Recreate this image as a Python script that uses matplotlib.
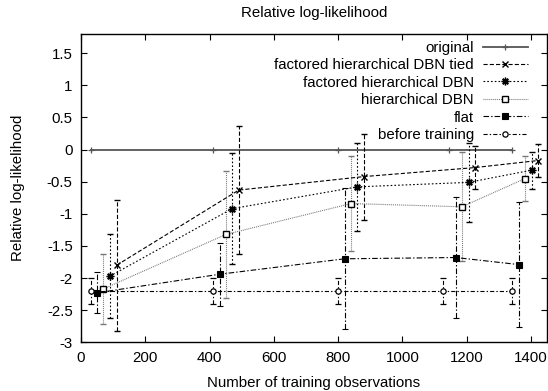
import matplotlib
matplotlib.use("Agg")
import matplotlib.pyplot as plt

plt.rcParams['font.family'] = ['Liberation Sans', 'DejaVu Sans']
plt.rcParams['lines.scale_dashes'] = False

# ---- data ----
orig_x = [30, 410, 800, 1145, 1340]
orig_y = [0, 0, 0, 0, 0]

tied_x = [111, 491, 880, 1225, 1422]
tied_y = [-1.80, -0.63, -0.42, -0.28, -0.17]
tied_e = [1.02, 1.00, 0.67, 0.34, 0.26]

fact_x = [90, 470, 860, 1206, 1402]
fact_y = [-1.97, -0.92, -0.58, -0.51, -0.32]
fact_e = [0.65, 0.86, 0.69, 0.61, 0.29]

hier_x = [69, 451, 840, 1185, 1382]
hier_y = [-2.17, -1.32, -0.84, -0.89, -0.45]
hier_e = [0.55, 0.99, 0.74, 0.85, 0.35]

flat_x = [49, 432, 820, 1166, 1362]
flat_y = [-2.23, -1.94, -1.70, -1.68, -1.79]
flat_e = [0.32, 0.49, 1.10, 0.94, 0.97]

bef_x = [30, 410, 800, 1125, 1340]
bef_y = [-2.20, -2.20, -2.20, -2.20, -2.20]
bef_e = [0.20, 0.20, 0.20, 0.20, 0.20]

labels = ["original", "factored hierarchical DBN tied", "factored hierarchical DBN",
          "hierarchical DBN", "flat", "before training"]
x_ticks = [0, 200, 400, 600, 800, 1000, 1200, 1400]
y_ticks = [-3, -2.5, -2, -1.5, -1, -0.5, 0, 0.5, 1, 1.5]

fig = plt.figure(figsize=(5.48, 3.91), dpi=100)
ax = fig.add_axes([81/548, 1-342.3/391, 466/548, 308.3/391])

fs = 10.8

handles = []
h, = ax.plot(orig_x, orig_y, color='#555555', lw=1.3, marker='+', ms=5, mew=0.9,
             label=labels[0])
handles.append(h)

def eb(x, y, e, dash, color, marker, mfc, ms, mew, label):
    cont = ax.errorbar(x, y, yerr=e, color=color, lw=0.8, marker=marker, ms=ms,
                       mfc=mfc, mec='black', mew=mew, capsize=2, capthick=0.8,
                       elinewidth=0.8, label=label)
    cont[0].set_dashes(dash)
    for c in cont[2]:
        c.set_linestyle((0, dash))
    handles.append(cont[0])
    return cont

eb(tied_x, tied_y, tied_e, (3, 1.5), 'black', 'x', 'none', 4, 1.0, labels[1])
eb(fact_x, fact_y, fact_e, (1.2, 1.5), 'black', (8, 2, 0), 'black', 5.5, 1.0, labels[2])
eb(hier_x, hier_y, hier_e, (0.7, 0.7), '#777777', 's', 'white', 4.2, 1.0, labels[3])
eb(flat_x, flat_y, flat_e, (4, 1.5, 1, 1.5), 'black', 's', 'black', 4.5, 0.8, labels[4])
eb(bef_x, bef_y, bef_e, (3, 1.5, 1, 1.5), 'black', 'o', 'white', 3.8, 0.9, labels[5])

ax.set_xlim(0, 1450)
ax.set_ylim(-3, 1.8)
ax.set_xticks(x_ticks)
ax.set_xticklabels([str(v) for v in x_ticks])
ax.set_yticks(y_ticks)
ax.set_yticklabels(['%g' % v for v in y_ticks])
ax.tick_params(direction='in', top=True, right=True, length=4, width=0.8,
               labelsize=fs, colors='black', pad=6)
for s in ax.spines.values():
    s.set_linewidth(1.0)

ax.set_title("Relative log-likelihood", fontsize=fs, pad=12)
ax.set_xlabel("Number of training observations", fontsize=fs, labelpad=8)
ax.set_ylabel("Relative log-likelihood", fontsize=fs, labelpad=16)

leg = ax.legend(handles, labels, loc='upper right', bbox_to_anchor=(0.959, 0.978),
                frameon=False, markerfirst=False, fontsize=fs, handlelength=3.0,
                handletextpad=0.6, labelspacing=0.23, borderpad=0,
                borderaxespad=0)

fig.savefig("out.png", dpi=100)
